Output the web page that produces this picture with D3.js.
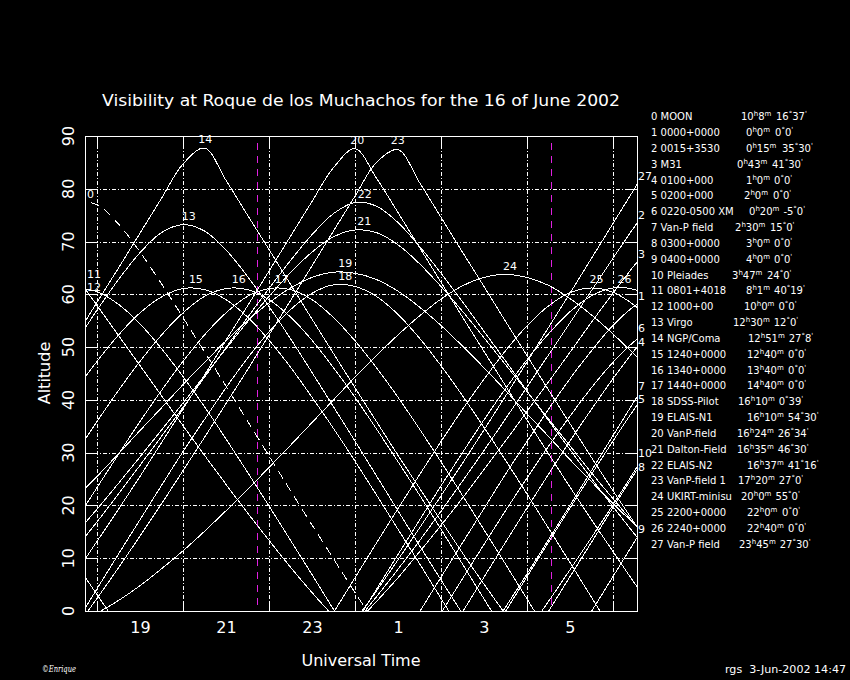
<!DOCTYPE html>
<html><head><meta charset="utf-8">
<script src="https://cdn.jsdelivr.net/npm/d3@7"></script>
<style>html,body{margin:0;padding:0;background:#000;}svg{display:block;}</style>
</head><body>
<svg id="chart" width="850" height="680"></svg>
<script>
// ---------------- data ----------------
const N = null;
const titleText = "Visibility at Roque de los Muchachos for the 16 of June 2002";
const timeDomain = [17.72, 30.56];            // UT hours (values > 24 are after midnight)
const gridHours = [18, 20, 22, 24, 26, 28, 30];
const labelHours = [19, 21, 23, 25, 27, 29];
const altTicks = [0, 10, 20, 30, 40, 50, 60, 70, 80, 90];
const twilightHours = [21.73, 28.57];
const hours = [17.5,18,18.5,19,19.5,20,20.5,21,21.5,22,22.5,23,23.5,24,24.5,25,25.5,26,26.5,27,27.5,28,28.5,29,29.5,30,30.5,31];

const alt00 = [77.6,77.0,73.3,68.0,62.0,55.6,49.1,42.6,36.0,29.4,22.8,16.3,9.9,3.5,-2.7,-8.8,N,N,N,N,N,N,N,N,N,N,N,N];
const alt01 = [N,N,N,N,N,N,N,N,N,N,N,N,N,N,N,-6.8,-0.2,6.4,12.9,19.4,25.9,32.1,38.2,44.0,49.3,54.1,57.8,60.4];
const alt02 = [N,N,N,N,N,N,N,N,N,N,N,N,-6.9,-2.3,2.7,7.9,13.3,18.9,24.6,30.4,36.4,42.4,48.5,54.6,60.7,66.8,72.8,78.3];
const alt03 = [N,N,N,N,N,N,N,N,N,N,N,N,-6.5,-2.5,1.8,6.3,11.2,16.2,21.4,26.8,32.2,37.8,43.4,49.0,54.7,60.2,65.5,70.4];
const alt04 = [N,N,N,N,N,N,N,N,N,N,N,N,N,N,N,N,N,-6.8,-0.2,6.4,13.0,19.5,25.9,32.2,38.2,44.0,49.4,54.1];
const alt05 = [N,N,N,N,N,N,N,N,N,N,N,N,N,N,N,N,N,N,N,-6.7,-0.1,6.5,13.0,19.5,25.9,32.2,38.3,44.1];
const alt06 = [N,N,N,N,N,N,N,N,N,N,N,N,N,N,N,N,-7.0,-0.4,6.1,12.6,19.0,25.2,31.2,36.9,42.3,47.1,51.1,54.2];
const alt07 = [N,N,N,N,N,N,N,N,N,N,N,N,N,N,N,N,N,N,N,-5.6,0.7,7.0,13.5,20.0,26.6,33.2,39.8,46.3];
const alt08 = [N,N,N,N,N,N,N,N,N,N,N,N,N,N,N,N,N,N,N,N,N,-6.7,-0.1,6.5,13.0,19.6,26.0,32.2];
const alt09 = [0.5,-6.1,N,N,N,N,N,N,N,N,N,N,N,N,N,N,N,N,N,N,N,N,N,-6.7,-0.1,6.5,13.1,19.6];
const alt10 = [9.1,3.1,-2.8,-8.4,N,N,N,N,N,N,N,N,N,N,N,N,N,N,N,N,-9.6,-4.0,1.8,7.8,13.9,20.1,26.5,32.9];
const alt11 = [63.5,57.9,52.2,46.5,40.8,35.1,29.5,24.0,18.6,13.4,8.3,3.5,-1.0,-5.2,-9.0,N,N,N,N,N,N,N,N,N,N,N,N,N];
const alt12 = [61.2,60.5,58.1,54.4,49.7,44.4,38.7,32.6,26.3,19.9,13.4,6.9,0.3,-6.3,N,N,N,N,N,N,N,N,N,N,N,N,N,N];
const alt13 = [50.8,57.0,62.8,67.9,71.7,73.2,72.0,68.4,63.4,57.7,51.6,45.2,38.7,32.2,25.6,19.0,12.4,5.9,-0.5,-6.9,N,N,N,N,N,N,N,N];
const alt14 = [51.9,58.5,65.0,71.6,78.2,84.7,87.7,81.6,75.0,68.5,61.9,55.3,48.8,42.3,35.9,29.5,23.3,17.1,11.0,5.1,-0.6,-6.1,N,N,N,N,N,N];
const alt15 = [41.8,47.3,52.3,56.5,59.5,61.1,60.9,59.0,55.7,51.3,46.2,40.5,34.6,28.4,22.0,15.5,9.0,2.4,-4.2,N,N,N,N,N,N,N,N,N];
const alt16 = [29.7,35.9,41.8,47.3,52.3,56.5,59.6,61.1,60.9,59.0,55.7,51.3,46.1,40.5,34.5,28.3,22.0,15.5,8.9,2.3,-4.2,N,N,N,N,N,N,N];
const alt17 = [17.0,23.4,29.7,35.9,41.8,47.3,52.3,56.5,59.6,61.1,60.9,59.0,55.6,51.2,46.1,40.5,34.5,28.3,21.9,15.4,8.9,2.3,-4.3,N,N,N,N,N];
const alt18 = [-2.4,4.2,10.8,17.3,23.8,30.2,36.3,42.3,47.9,52.9,57.1,60.2,61.8,61.5,59.6,56.2,51.7,46.5,40.8,34.8,28.6,22.2,15.7,9.2,2.6,-4.0,N,N];
const alt19 = [21.4,25.5,29.8,34.2,38.5,42.9,47.1,51.2,55.0,58.4,61.2,63.2,64.2,64.0,62.8,60.6,57.6,54.1,50.2,46.1,41.8,37.4,33.1,28.7,24.5,20.4,16.4,12.6];
const alt20 = [7.2,13.2,19.3,25.5,31.9,38.3,44.7,51.3,57.8,64.4,71.0,77.6,84.0,87.6,82.0,75.5,68.9,62.3,55.7,49.2,42.7,36.2,29.8,23.5,17.3,11.3,5.3,-0.4];
const alt21 = [14.6,19.3,24.2,29.2,34.3,39.4,44.6,49.7,54.8,59.6,64.1,68.0,70.9,72.2,71.7,69.4,65.8,61.5,56.8,51.8,46.7,41.6,36.4,31.3,26.2,21.3,16.5,11.9];
const alt22 = [11.8,16.9,22.2,27.6,33.1,38.6,44.3,49.9,55.6,61.1,66.4,71.3,75.3,77.4,76.7,73.6,69.1,64.0,58.6,53.0,47.4,41.7,36.1,30.6,25.1,19.8,14.6,9.6];
const alt23 = [-3.2,2.4,8.2,14.2,20.3,26.6,32.9,39.3,45.7,52.3,58.8,65.4,72.0,78.6,85.0,87.4,81.2,74.6,68.0,61.5,54.9,48.4,41.9,35.5,29.1,22.8,16.7,10.6];
const alt24 = [-2.5,-0.4,2.0,4.8,8.0,11.4,15.1,19.0,23.0,27.2,31.4,35.7,40.0,44.3,48.4,52.3,55.9,59.1,61.6,63.2,63.8,63.2,61.7,59.2,56.1,52.5,48.6,44.5];
const alt25 = [N,N,N,N,N,N,N,N,N,N,N,-6.9,-0.3,6.3,12.9,19.4,25.8,32.1,38.2,43.9,49.3,54.0,57.8,60.3,61.2,60.4,57.9,54.1];
const alt26 = [N,N,N,N,N,N,N,N,N,N,N,N,-9.0,-2.5,4.1,10.7,17.2,23.7,30.0,36.2,42.1,47.6,52.5,56.7,59.7,61.2,60.9,58.9];
const alt27 = [N,N,N,N,N,N,N,N,N,N,N,N,-7.2,-1.8,3.8,9.7,15.7,21.8,28.0,34.3,40.7,47.2,53.7,60.2,66.8,73.4,80.0,86.5];

const objectNames = ["MOON","0000+0000","0015+3530","M31","0100+000","0200+000","0220-0500 XM","Van-P field",
  "0300+0000","0400+0000","Pleiades","0801+4018","1000+00","Virgo","NGP/Coma","1240+0000","1340+0000",
  "1440+0000","SDSS-Pilot","ELAIS-N1","VanP-field","Dalton-Field","ELAIS-N2","VanP-field 1","UKIRT-minisu",
  "2200+0000","2240+0000","Van-P field"];
const raLabels = ["10h8m","0h0m","0h15m","0h43m","1h0m","2h0m","0h20m","2h30m","3h0m","4h0m","3h47m","8h1m",
  "10h0m","12h30m","12h51m","12h40m","13h40m","14h40m","16h10m","16h10m","16h24m","16h35m","16h37m",
  "17h20m","20h0m","22h0m","22h40m","23h45m"];
const decLabels = ["16°37'","0°0'","35°30'","41°30'","0°0'","0°0'","-5°0'","15°0'","0°0'","0°0'","24°0'","40°19'",
  "0°0'","12°0'","27°8'","0°0'","0°0'","0°0'","0°39'","54°30'","26°34'","46°30'","41°16'","27°0'","55°0'",
  "0°0'","0°0'","27°30'"];
const footerLeft = "©Enrique";
const footerRight = "rgs  3-Jun-2002 14:47";

const altitudes = [alt00,alt01,alt02,alt03,alt04,alt05,alt06,alt07,alt08,alt09,alt10,alt11,alt12,alt13,
  alt14,alt15,alt16,alt17,alt18,alt19,alt20,alt21,alt22,alt23,alt24,alt25,alt26,alt27];

// ---------------- layout ----------------
const P = {left: 85, right: 637, top: 136, bottom: 611};
const FONT = "DejaVu Sans, sans-serif";
// legend column starts (layout only)
const legendRaX = [741,746,746,737,746,744,749,735,746,746,732,746,744,733,748,747,747,747,738,747,737,737,747,738,741,747,747,739];
const legendDecX = [776,775,782,772,773,773,775,770,774,774,767,771,778,770,787,788,788,788,777,785,775,774,785,776,775,782,788,775];

const svg = d3.select("#chart");
svg.append("rect").attr("width", 850).attr("height", 680).attr("fill", "#000");

const x = d3.scaleLinear().domain(timeDomain).range([P.left, P.right]);
const y = d3.scaleLinear().domain([0, 90]).range([P.bottom, P.top]);
const px = v => Math.round(v) + 0.5;

// grid
const grid = svg.append("g").attr("stroke", "#fff").attr("stroke-width", 1)
  .attr("shape-rendering", "crispEdges").attr("fill", "none");
altTicks.filter(a => a > 0 && a < 90).forEach(a => {
  const yy = px(y(a));
  grid.append("line").attr("x1", P.left).attr("x2", P.right).attr("y1", yy).attr("y2", yy)
    .attr("stroke-dasharray", "4,2,1,2");
  grid.append("line").attr("x1", P.left).attr("x2", P.left + 10).attr("y1", yy).attr("y2", yy);
  grid.append("line").attr("x1", P.right - 10).attr("x2", P.right).attr("y1", yy).attr("y2", yy);
});
gridHours.forEach(h => {
  const xx = px(x(h));
  grid.append("line").attr("x1", xx).attr("x2", xx).attr("y1", P.top).attr("y2", P.bottom)
    .attr("stroke-dasharray", "4,2,1,2");
  grid.append("line").attr("x1", xx).attr("x2", xx).attr("y1", P.top).attr("y2", P.top + 9);
  grid.append("line").attr("x1", xx).attr("x2", xx).attr("y1", P.bottom - 10).attr("y2", P.bottom);
});

// twilight lines
twilightHours.forEach(h => {
  const xx = px(x(h));
  svg.append("line").attr("x1", xx).attr("x2", xx).attr("y1", P.top + 7).attr("y2", P.bottom)
    .attr("stroke", "#e020e0").attr("stroke-width", 1).attr("stroke-dasharray", "7,6")
    .attr("shape-rendering", "crispEdges");
});

// curves
svg.append("clipPath").attr("id", "clip").append("rect")
  .attr("x", P.left).attr("y", P.top).attr("width", P.right - P.left).attr("height", P.bottom - P.top);
const line = d3.line()
  .defined(d => d[1] !== null)
  .x(d => x(d[0])).y(d => y(d[1]))
  .curve(d3.curveCatmullRom.alpha(0.5));
const curves = svg.append("g").attr("clip-path", "url(#clip)");
altitudes.forEach((arr, i) => {
  const pts = hours.map((h, k) => [h, arr[k]]);
  curves.append("path").attr("d", line(pts)).attr("fill", "none").attr("stroke", "#fff")
    .attr("stroke-width", 1).attr("shape-rendering", "crispEdges")
    .attr("stroke-dasharray", i === 0 ? "9,6" : null);
});

// frame
svg.append("rect").attr("x", P.left + 0.5).attr("y", P.top + 0.5)
  .attr("width", P.right - P.left).attr("height", P.bottom - P.top)
  .attr("fill", "none").attr("stroke", "#fff").attr("stroke-width", 1).attr("shape-rendering", "crispEdges");

// curve labels at the highest visible point
function valueAt(arr, t) {
  for (let k = 0; k < hours.length - 1; k++) {
    if (t >= hours[k] && t <= hours[k + 1]) {
      const a = arr[k], b = arr[k + 1];
      if (a === null || b === null) return null;
      return a + (b - a) * (t - hours[k]) / (hours[k + 1] - hours[k]);
    }
  }
  return null;
}
const labelItems = [];
altitudes.forEach((arr, i) => {
  let best = {v: -1e9};
  const vl = valueAt(arr, timeDomain[0]);
  if (vl !== null) best = {v: vl, kind: "left", t: timeDomain[0]};
  hours.forEach((h, k) => {
    if (h > timeDomain[0] && h < timeDomain[1] && arr[k] !== null && arr[k] > best.v)
      best = {v: arr[k], kind: "in", k: k, t: h};
  });
  const vr = valueAt(arr, timeDomain[1]);
  if (vr !== null && vr > best.v) best = {v: vr, kind: "right", t: timeDomain[1]};
  let lx, anchor = "start", ly;
  if (best.kind === "in") {
    const k = best.k, a = arr[k - 1], b = arr[k], c = arr[k + 1];
    let t = best.t, v = best.v;
    if (a !== null && c !== null) {
      const den = a - 2 * b + c;
      if (den < 0) {
        const off = 0.5 * (a - c) / (2 * den);
        t = best.t + off;
        v = b - (a - c) * (a - c) / (8 * den);
      }
    }
    lx = x(t) + 4.5; anchor = "middle"; ly = y(v) - 4.5;
  } else if (best.kind === "left") {
    lx = P.left + 2; ly = y(best.v) - 4.5;
  } else {
    lx = P.right + 1; ly = y(best.v) - 4.5;
  }
  labelItems.push({i, x: lx, y: ly, anchor, side: best.kind});
});
// keep edge labels from sitting on top of each other
const MIN_GAP = 13.5;
["left", "right"].forEach(side => {
  const grp = labelItems.filter(d => d.side === side).sort((a, b) => a.y - b.y);
  for (let j = 1; j < grp.length; j++) {
    const gap = grp[j].y - grp[j - 1].y;
    if (gap < MIN_GAP) {
      const s = (MIN_GAP - gap) / 2;
      grp[j - 1].y -= s; grp[j].y += s;
    }
  }
});
const labels = svg.append("g").attr("fill", "#fff").attr("font-family", FONT).attr("font-size", 11);
labelItems.forEach(d => {
  labels.append("text").attr("x", d.x).attr("y", d.y).attr("text-anchor", d.anchor).text(String(d.i));
});

// axes labels
const xAxis = d3.axisBottom(x).tickValues(labelHours).tickSize(0).tickFormat(h => String(h % 24));
const gx = svg.append("g").attr("transform", `translate(0,${P.bottom})`).call(xAxis);
gx.select(".domain").remove();
gx.selectAll("text").attr("fill", "#fff").attr("font-family", FONT).attr("font-size", 16).attr("dy", null).attr("y", 22);

altTicks.forEach(a => {
  svg.append("text").attr("transform", `translate(74,${y(a)}) rotate(-90)`)
    .attr("text-anchor", "middle").attr("fill", "#fff").attr("font-family", FONT).attr("font-size", 16)
    .text(String(a));
});

svg.append("text").attr("transform", "translate(50,373) rotate(-90)").attr("text-anchor", "middle")
  .attr("fill", "#fff").attr("font-family", FONT).attr("font-size", 16).text("Altitude");
svg.append("text").attr("x", 361).attr("y", 666).attr("text-anchor", "middle")
  .attr("fill", "#fff").attr("font-family", FONT).attr("font-size", 16).text("Universal Time");
svg.append("text").attr("x", 102).attr("y", 106).attr("fill", "#fff").attr("font-family", FONT)
  .attr("font-size", 16).attr("textLength", 518).attr("lengthAdjust", "spacingAndGlyphs").text(titleText);

// legend
function supText(sel, s) {
  const parts = s.match(/(\d+|[hm°']|-)/g);
  let raised = false;
  parts.forEach(p => {
    const sup = /[hm°']/.test(p);
    const t = sel.append("tspan").text(p);
    if (sup && !raised) { t.attr("dy", -4).attr("font-size", 7); raised = true; }
    else if (sup) { t.attr("font-size", 7); }
    else if (!sup && raised) { t.attr("dy", 4); raised = false; }
  });
  return sel;
}
const legend = svg.append("g").attr("fill", "#fff").attr("font-family", FONT).attr("font-size", 10);
objectNames.forEach((nm, i) => {
  const yy = 120.3 + i * 15.83;
  legend.append("text").attr("x", 651).attr("y", yy).attr("xml:space", "preserve").text(i + " " + nm);
  const ra = supText(legend.append("text").attr("x", legendRaX[i]).attr("y", yy), raLabels[i]);
  const raEnd = legendRaX[i] + ra.node().getComputedTextLength();
  supText(legend.append("text").attr("x", Math.max(legendDecX[i], raEnd + 4)).attr("y", yy), decLabels[i]);
});

svg.append("text").attr("x", 42).attr("y", 672).attr("fill", "#fff").attr("font-family", "DejaVu Serif, serif")
  .attr("font-style", "italic").attr("font-size", 9).attr("textLength", 34).attr("lengthAdjust", "spacingAndGlyphs")
  .text(footerLeft);
svg.append("text").attr("x", 725).attr("y", 673).attr("fill", "#fff").attr("font-family", FONT)
  .attr("font-size", 11).attr("textLength", 121).attr("lengthAdjust", "spacingAndGlyphs")
  .attr("xml:space", "preserve").text(footerRight);
</script>
</body></html>
